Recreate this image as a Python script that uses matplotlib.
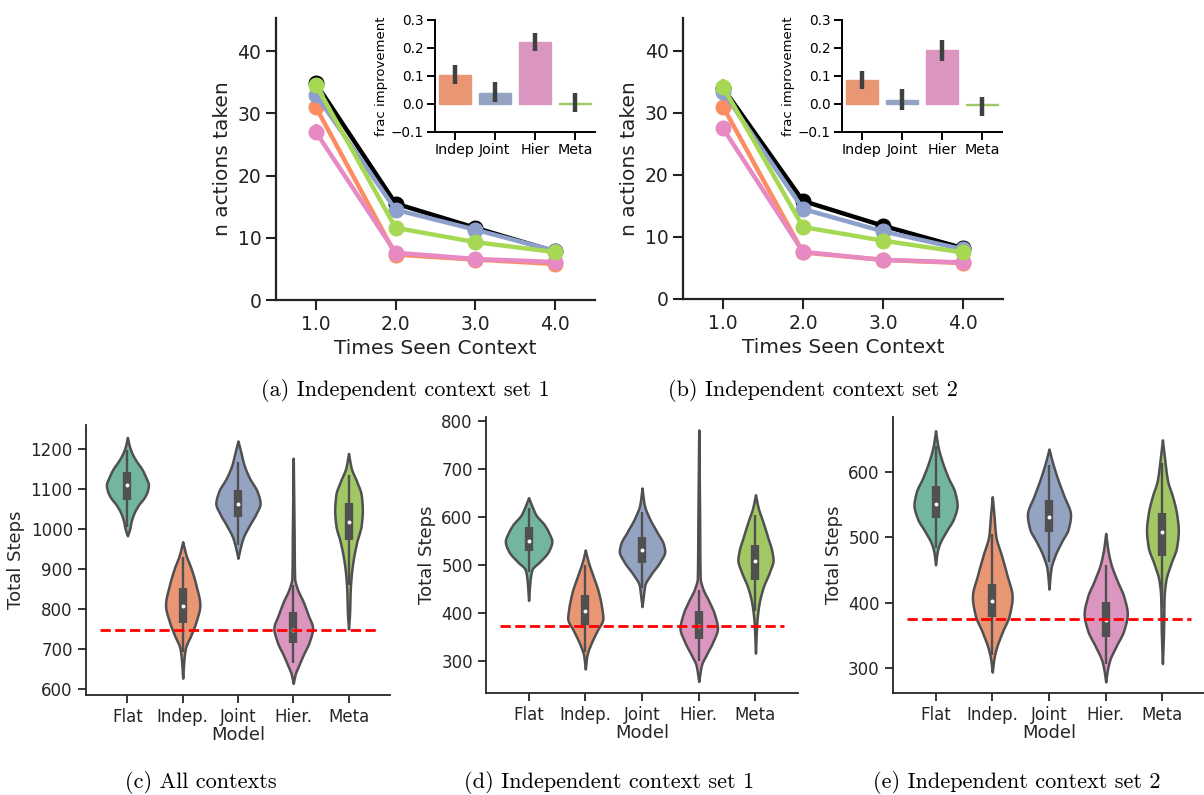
import colorsys
import numpy as np
import matplotlib
matplotlib.use("Agg")
import matplotlib.pyplot as plt
import matplotlib.colors as mcolors

# ── data: learning curves (panels a, b) ─────────────────────────
times = ["1.0", "2.0", "3.0", "4.0"]
models = ["Flat", "Indep", "Joint", "Hier", "Meta"]

a_steps = {
    "Flat":  [34.8, 15.5, 11.6, 7.8],
    "Indep": [31.0, 7.3, 6.5, 5.8],
    "Joint": [33.0, 14.5, 11.3, 7.9],
    "Hier":  [27.0, 7.6, 6.6, 6.1],
    "Meta":  [34.6, 11.6, 9.3, 7.7],
}
a_err = {
    "Flat":  [1.0, 0.4, 0.3, 0.2],
    "Indep": [1.0, 0.3, 0.3, 0.2],
    "Joint": [1.0, 0.4, 0.3, 0.2],
    "Hier":  [1.2, 0.3, 0.3, 0.2],
    "Meta":  [1.1, 0.4, 0.3, 0.2],
}
b_steps = {
    "Flat":  [34.0, 15.8, 11.8, 8.2],
    "Indep": [31.0, 7.5, 6.3, 5.8],
    "Joint": [33.4, 14.5, 10.9, 8.0],
    "Hier":  [27.5, 7.6, 6.3, 5.9],
    "Meta":  [34.2, 11.6, 9.4, 7.5],
}
b_err = {
    "Flat":  [1.0, 0.4, 0.3, 0.2],
    "Indep": [1.0, 0.3, 0.3, 0.2],
    "Joint": [1.0, 0.4, 0.3, 0.2],
    "Hier":  [1.0, 0.3, 0.3, 0.2],
    "Meta":  [1.2, 0.4, 0.3, 0.2],
}

# inset bars: fractional improvement over Flat
bar_models = ["Indep", "Joint", "Hier", "Meta"]
a_frac = [0.104, 0.040, 0.220, 0.003]
a_frac_lo = [0.071, 0.008, 0.188, -0.030]
a_frac_hi = [0.139, 0.080, 0.254, 0.038]
b_frac = [0.086, 0.015, 0.193, -0.004]
b_frac_lo = [0.052, -0.021, 0.155, -0.044]
b_frac_hi = [0.118, 0.054, 0.229, 0.026]

# ── data: violin outlines (value, half width) + box stats ──────
violin_labels = ["Flat", "Indep.", "Joint", "Hier.", "Meta"]

c_vals = {
    "Flat":  [983, 1000, 1020, 1040, 1060, 1080, 1095, 1110, 1130, 1150, 1170, 1190, 1210, 1229],
    "Indep": [627, 677, 702, 735, 768, 810, 860, 902, 935, 968],
    "Joint": [927, 952, 977, 1010, 1039, 1064, 1093, 1127, 1160, 1193, 1220],
    "Hier":  [614, 639, 656, 685, 718, 752, 785, 818, 852, 877, 1000, 1177],
    "Meta":  [750, 793, 843, 885, 927, 968, 1010, 1047, 1085, 1118, 1152, 1189],
}
c_hw = {
    "Flat":  [0.0, 0.04, 0.07, 0.12, 0.20, 0.31, 0.36, 0.38, 0.33, 0.26, 0.16, 0.08, 0.03, 0.0],
    "Indep": [0.0, 0.025, 0.05, 0.15, 0.24, 0.31, 0.24, 0.15, 0.06, 0.0],
    "Joint": [0.0, 0.04, 0.09, 0.21, 0.33, 0.40, 0.35, 0.21, 0.11, 0.05, 0.0],
    "Hier":  [0.0, 0.04, 0.09, 0.18, 0.29, 0.35, 0.27, 0.18, 0.07, 0.025, 0.015, 0.0],
    "Meta":  [0.0, 0.02, 0.03, 0.05, 0.09, 0.15, 0.23, 0.25, 0.23, 0.15, 0.05, 0.0],
}
# q1, median, q3, whisker low, whisker high
c_box = {
    "Flat":  [1072, 1110, 1143, 1006, 1197],
    "Indep": [764, 808, 852, 693, 931],
    "Joint": [1031, 1063, 1097, 960, 1168],
    "Hier":  [714, 747, 793, 664, 860],
    "Meta":  [972, 1018, 1064, 860, 1135],
}

d_vals = {
    "Flat":  [426, 472, 490, 507, 528, 549, 566, 583, 604, 622, 640],
    "Indep": [283, 312, 333, 361, 389, 410, 444, 479, 507, 531],
    "Joint": [413, 437, 458, 479, 507, 528, 542, 569, 597, 625, 660],
    "Hier":  [257, 292, 312, 340, 368, 396, 424, 451, 472, 600, 781],
    "Meta":  [316, 382, 417, 451, 486, 510, 528, 556, 590, 618, 646],
}
d_hw = {
    "Flat":  [0.0, 0.03, 0.06, 0.20, 0.35, 0.41, 0.36, 0.28, 0.13, 0.06, 0.0],
    "Indep": [0.0, 0.03, 0.09, 0.20, 0.31, 0.29, 0.23, 0.13, 0.05, 0.0],
    "Joint": [0.0, 0.025, 0.05, 0.15, 0.32, 0.40, 0.38, 0.26, 0.13, 0.04, 0.0],
    "Hier":  [0.0, 0.05, 0.13, 0.25, 0.33, 0.28, 0.18, 0.07, 0.025, 0.015, 0.0],
    "Meta":  [0.0, 0.025, 0.06, 0.13, 0.25, 0.31, 0.29, 0.22, 0.13, 0.05, 0.0],
}
d_box = {
    "Flat":  [528, 550, 578, 486, 618],
    "Indep": [374, 403, 437, 319, 500],
    "Joint": [503, 530, 557, 451, 611],
    "Hier":  [346, 372, 404, 299, 448],
    "Meta":  [469, 507, 542, 403, 604],
}

e_vals = {
    "Flat":  [458, 478, 490, 508, 529, 549, 569, 590, 615, 640, 663],
    "Indep": [294, 315, 330, 356, 381, 409, 442, 473, 503, 534, 562],
    "Joint": [421, 452, 473, 493, 513, 534, 564, 590, 615, 635],
    "Hier":  [279, 297, 312, 333, 358, 383, 409, 434, 460, 480, 506],
    "Meta":  [307, 358, 409, 434, 460, 485, 511, 536, 562, 587, 623, 649],
}
e_hw = {
    "Flat":  [0.0, 0.03, 0.07, 0.18, 0.32, 0.38, 0.34, 0.23, 0.12, 0.04, 0.0],
    "Indep": [0.0, 0.03, 0.07, 0.18, 0.30, 0.35, 0.26, 0.16, 0.06, 0.03, 0.0],
    "Joint": [0.0, 0.035, 0.11, 0.22, 0.34, 0.38, 0.26, 0.15, 0.06, 0.0],
    "Hier":  [0.0, 0.03, 0.07, 0.18, 0.32, 0.38, 0.32, 0.20, 0.09, 0.04, 0.0],
    "Meta":  [0.0, 0.02, 0.03, 0.06, 0.15, 0.25, 0.28, 0.25, 0.18, 0.09, 0.035, 0.0],
}
e_box = {
    "Flat":  [530, 551, 579, 483, 640],
    "Indep": [378, 403, 429, 320, 505],
    "Joint": [508, 531, 557, 462, 610],
    "Hier":  [348, 374, 401, 307, 457],
    "Meta":  [471, 508, 537, 394, 613],
}

baselines = {"c": 748, "d": 372, "e": 375}

# ── style ───────────────────────────────────────────────────────
set2 = ["#66c2a5", "#fc8d62", "#8da0cb", "#e78ac3", "#a6d854"]
line_colors = {"Flat": "black", "Indep": set2[1], "Joint": set2[2],
               "Hier": set2[3], "Meta": set2[4]}


def desat(c, prop=0.75):
    r, g, b = mcolors.to_rgb(c)
    h, l, s = colorsys.rgb_to_hls(r, g, b)
    return colorsys.hls_to_rgb(h, l, s * prop)


soft = [desat(c) for c in set2]
edge = "#505050"
plt.rcParams["font.family"] = "DejaVu Sans"


def smooth_profile(y, w, n=400):
    # monotone cubic (Fritsch-Carlson) through the read outline points
    y = np.asarray(y, float)
    w = np.asarray(w, float)
    h = np.diff(y)
    d = np.diff(w) / h
    m = np.zeros_like(w)
    m[0], m[-1] = d[0], d[-1]
    for k in range(1, len(w) - 1):
        if d[k - 1] * d[k] > 0:
            w1 = 2 * h[k] + h[k - 1]
            w2 = h[k] + 2 * h[k - 1]
            m[k] = (w1 + w2) / (w1 / d[k - 1] + w2 / d[k])
    yy = np.linspace(y[0], y[-1], n)
    i = np.clip(np.searchsorted(y, yy) - 1, 0, len(y) - 2)
    hh = h[i]
    t = (yy - y[i]) / hh
    ww = ((2 * t**3 - 3 * t**2 + 1) * w[i] + (t**3 - 2 * t**2 + t) * hh * m[i]
          + (-2 * t**3 + 3 * t**2) * w[i + 1] + (t**3 - t**2) * hh * m[i + 1])
    return yy, np.clip(ww, 0, None)


def line_panel(rect, steps, err, frac, lo, hi):
    ax = fig.add_axes(rect)
    x = np.arange(len(times))
    for k, name in enumerate(models):
        ax.errorbar(x, steps[name], yerr=err[name], color=line_colors[name],
                    lw=3.2, marker="o", ms=10.5, elinewidth=3, capsize=0, zorder=2 + k)
    ax.set_xlim(-0.5, 3.5)
    ax.set_ylim(0, 45.3)
    ax.set_xticks(x)
    ax.set_xticklabels(times)
    ax.set_yticks([0, 10, 20, 30, 40])
    ax.tick_params(labelsize=13.5, length=7, width=1.5, colors="#222222")
    for s in ["top", "right"]:
        ax.spines[s].set_visible(False)
    for s in ["left", "bottom"]:
        ax.spines[s].set_linewidth(1.6)
        ax.spines[s].set_color("#222222")
    ax.set_xlabel("Times Seen Context", fontsize=14.5, color="#222222")
    ax.set_ylabel("n actions taken", fontsize=14.5, color="#222222")

    ins = fig.add_axes([rect[0] + 0.132, 0.834, 0.1329, 0.1409])
    bx = np.arange(len(bar_models))
    ins.bar(bx, frac, width=0.8, color=soft[1:], edgecolor=soft[1:], lw=1, zorder=2)
    ins.vlines(bx, lo, hi, color="#404040", lw=3.2, zorder=3)
    ins.set_xlim(-0.5, 3.5)
    ins.set_ylim(-0.1, 0.3)
    ins.set_yticks([-0.1, 0.0, 0.1, 0.2, 0.3])
    ins.set_yticklabels(["\u22120.1", "0.0", "0.1", "0.2", "0.3"])
    ins.set_xticks(bx)
    ins.set_xticklabels(bar_models)
    ins.tick_params(axis="y", labelsize=9.8, length=6, width=1.4, pad=2)
    ins.tick_params(axis="x", labelsize=10.3, length=6, width=1.4, pad=2)
    for s in ["top", "right"]:
        ins.spines[s].set_visible(False)
    for s in ["left", "bottom"]:
        ins.spines[s].set_linewidth(1.4)
    ins.set_ylabel("frac improvement", fontsize=9.5, labelpad=2)
    return ax


def violin_panel(rect, vals, hws, boxes, base, ylim, yticks):
    ax = fig.add_axes(rect)
    for k, name in enumerate(models):
        yy, ww = smooth_profile(vals[name], hws[name])
        ax.fill_betweenx(yy, k - ww, k + ww, facecolor=soft[k], edgecolor=edge,
                         lw=1.8, zorder=2)
        q1, med, q3, wlo, whi = boxes[name]
        ax.vlines(k, wlo, whi, color=edge, lw=1.7, zorder=3)
        ax.vlines(k, q1, q3, color=edge, lw=6, zorder=3)
        ax.scatter([k], [med], s=8, color="white", zorder=4, linewidths=0)
    ax.plot([-0.5, 4.5], [base, base], color="red", ls="--", lw=2, zorder=5)
    ax.set_xlim(-0.75, 4.75)
    ax.set_ylim(*ylim)
    ax.set_yticks(yticks)
    ax.set_xticks(range(len(violin_labels)))
    ax.set_xticklabels(violin_labels)
    ax.tick_params(labelsize=12, length=6, width=1.3, colors="#262626")
    for s in ["top", "right"]:
        ax.spines[s].set_visible(False)
    for s in ["left", "bottom"]:
        ax.spines[s].set_linewidth(1.3)
        ax.spines[s].set_color("#262626")
    ax.set_xlabel("Model", fontsize=13, color="#262626", labelpad=0)
    ax.set_ylabel("Total Steps", fontsize=13, color="#262626")
    return ax


fig = plt.figure(figsize=(12.04, 7.95), dpi=100)

line_panel([0.2292, 0.6226, 0.2650, 0.3547], a_steps, a_err, a_frac, a_frac_lo, a_frac_hi)
line_panel([0.5673, 0.6239, 0.2658, 0.3535], b_steps, b_err, b_frac, b_frac_lo, b_frac_hi)

violin_panel([0.0714, 0.1258, 0.2525, 0.3396], c_vals, c_hw, c_box, baselines["c"],
             (585, 1260), range(600, 1201, 100))
violin_panel([0.4037, 0.1283, 0.2591, 0.3472], d_vals, d_hw, d_box, baselines["d"],
             (233, 808), range(300, 801, 100))
violin_panel([0.7417, 0.1283, 0.2591, 0.3472], e_vals, e_hw, e_box, baselines["e"],
             (262, 684), range(300, 601, 100))

captions = [
    (405, 390, "(a) Independent context set 1"),
    (813, 390, "(b) Independent context set 2"),
    (201, 782, "(c) All contexts"),
    (609, 783, "(d) Independent context set 1"),
    (1017, 783, "(e) Independent context set 2"),
]
for cx, cy, txt in captions:
    fig.text(cx / 1204, 1 - cy / 795, txt, ha="center", va="center",
             fontsize=16, family="cmr10")

fig.savefig("out.png", dpi=100)
